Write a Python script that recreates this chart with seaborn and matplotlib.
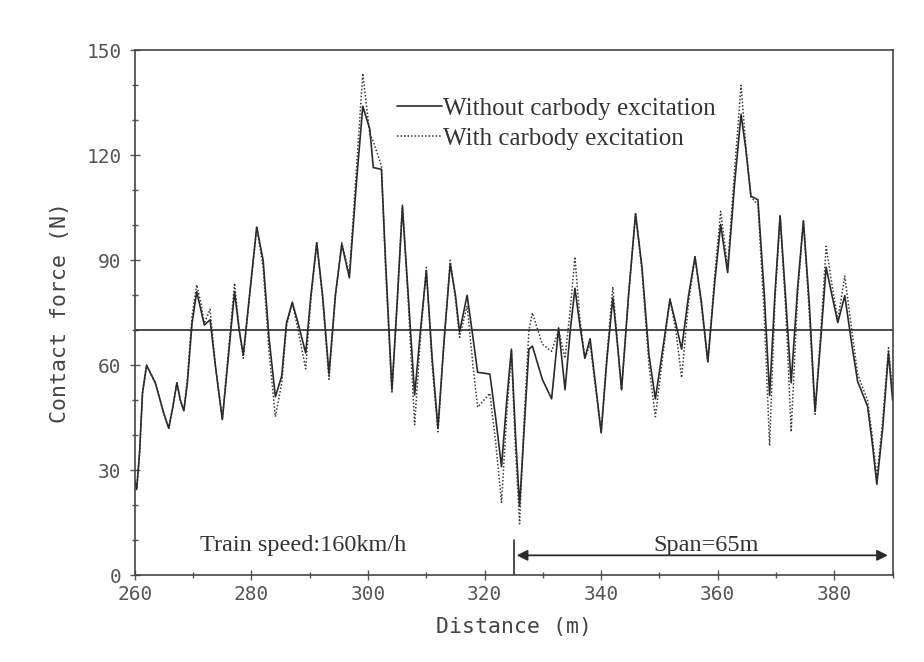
import matplotlib
matplotlib.use("Agg")
import matplotlib.pyplot as plt
from matplotlib.lines import Line2D
from matplotlib.ticker import MultipleLocator
import pandas as pd
import seaborn as sns

# distance (m) along the track
distance = [
    260.0, 260.3, 260.8, 261.3, 262.0, 263.5, 265.0, 265.8, 266.5, 267.2,
    267.8, 268.4, 269.0, 269.8, 270.6, 271.3, 271.9, 272.9, 273.8, 275.0,
    276.0, 277.1, 277.9, 278.6, 279.8, 280.9, 282.0, 283.0, 284.1, 285.2,
    286.0, 287.0, 288.0, 289.3, 290.2, 291.2, 292.2, 293.3, 294.4, 295.5,
    296.8, 298.0, 299.1, 300.3, 300.9, 302.3, 303.0, 304.1, 305.0, 305.9,
    306.9, 308.0, 309.0, 310.0, 311.0, 312.0, 313.0, 314.1, 315.0, 315.7,
    317.0, 318.0, 318.8, 320.9, 321.9, 322.9, 323.8, 324.6, 325.3, 326.0,
    326.8, 327.6, 328.2, 329.9, 331.5, 332.7, 333.8, 334.7, 335.5, 336.3,
    337.2, 338.1, 339.0, 340.0, 341.0, 342.0, 342.8, 343.5, 344.7, 345.9,
    347.0, 348.2, 349.3, 350.6, 351.8, 352.8, 353.8, 355.0, 356.1, 357.2,
    358.3, 359.5, 360.5, 361.7, 362.9, 364.0, 364.8, 365.7, 366.9, 368.0,
    368.9, 369.8, 370.7, 371.7, 372.6, 373.7, 374.7, 375.7, 376.7, 377.7,
    378.6, 379.6, 380.6, 381.8, 383.0, 384.0, 385.7, 386.5, 387.3, 388.3,
    389.3, 390.0,
]

# contact force (N), without carbody excitation
force_without = [
    27, 24.5, 35, 52, 60, 55, 46, 42, 48, 55,
    50, 47, 55, 72, 81, 76, 71.5, 73, 60, 44.5,
    62, 81, 70, 63, 82, 99.5, 90, 68, 51, 57,
    72, 78, 72, 63.5, 80, 95, 80, 57.5, 80, 94.6,
    85, 112, 134, 127.5, 116.5, 116, 90, 53, 78, 105.3,
    80, 51.5, 70, 87, 62, 42, 66, 89, 80, 69.5,
    80, 68, 58, 57.5, 45, 31, 50, 64.6, 40, 19.8,
    42, 64.6, 65.5, 56, 50.4, 70.7, 53, 70, 82, 72,
    62, 67.6, 55, 40.7, 62, 79.3, 66, 53, 80, 103.3,
    88, 63, 50.4, 65, 78.8, 72, 64.6, 80, 91, 78,
    61, 84, 100.2, 86.5, 112, 131.7, 122, 108.3, 107.3, 80,
    51.4, 80, 102.7, 78, 55, 82, 101.2, 78, 46.8, 68,
    88, 80, 72.2, 79.9, 66, 55.4, 48.3, 38, 26, 42,
    63.6, 50,
]

# contact force (N), with carbody excitation
force_with = [
    27, 24.5, 35, 52, 60, 55, 46, 42, 48, 55,
    50, 47, 56, 74, 83, 78, 72, 76, 60, 44.5,
    63, 83.5, 70, 62, 82, 99.5, 88, 64, 45.3, 55,
    71, 78, 70, 59, 79, 95, 79, 56, 80, 95,
    86, 116, 143.4, 126, 124, 117, 88, 52, 78, 106,
    78, 43, 68, 88, 60, 41, 66, 90, 79, 68,
    77, 60, 48, 52, 38, 20.8, 46, 64, 36, 14.7,
    45, 70, 75, 66, 64, 70, 62, 76, 91, 74,
    62, 66, 54, 41, 63, 82.4, 66, 53, 80, 103.3,
    87, 60, 45.3, 63, 79, 70, 56.5, 78, 91, 77,
    61, 86, 104, 88, 116, 140, 123, 108, 106, 74,
    37, 78, 103, 75, 41, 80, 101.5, 75, 46, 70,
    94, 83, 73, 85.5, 70, 57.5, 50, 40, 28, 44,
    65, 52,
]

mean_force = 70
span_start, span_end = 325, 390

df = pd.DataFrame({
    "distance": distance,
    "without": force_without,
    "with": force_with,
})

sns.set_style("ticks")
plt.rcParams["font.family"] = ["DejaVu Sans Mono", "DejaVu Sans"]
ink = "#2b2b2b"
serif = ["Liberation Serif", "DejaVu Serif"]

fig = plt.figure(figsize=(9.24, 6.62), dpi=100)
ax = fig.add_axes([0.146, 0.131, 0.82, 0.793])

sns.lineplot(data=df, x="distance", y="with", ax=ax, color="#3a3a3a",
             linewidth=1.1, linestyle=(0, (1, 1.3)))
sns.lineplot(data=df, x="distance", y="without", ax=ax, color=ink,
             linewidth=1.2)

ax.axhline(mean_force, color=ink, linewidth=1.2)

ax.set_xlim(260, 390)
ax.set_ylim(0, 150)
ax.xaxis.set_major_locator(MultipleLocator(20))
ax.xaxis.set_minor_locator(MultipleLocator(10))
ax.yaxis.set_major_locator(MultipleLocator(30))
ax.yaxis.set_minor_locator(MultipleLocator(10))
ax.tick_params(which="both", direction="inout", colors="#555555",
               labelsize=14, width=1.0)
ax.tick_params(which="major", length=7)
ax.tick_params(which="minor", length=5)
ax.tick_params(axis="y", pad=6)
for sp in ax.spines.values():
    sp.set_visible(True)
    sp.set_color("#444444")
    sp.set_linewidth(1.2)

ax.set_xlabel("Distance (m)", fontsize=15.5, color="#444444", labelpad=9)
ax.set_ylabel("Contact force (N)", fontsize=15.5, color="#444444", labelpad=12)

# span marker
ax.plot([span_start, span_start], [0, 10], color=ink, linewidth=1.2)
ax.annotate("", xy=(span_end - 0.8, 5.7), xytext=(span_start + 0.5, 5.7),
            arrowprops=dict(arrowstyle="<|-|>", color=ink, lw=1.3,
                            mutation_scale=16, shrinkA=0, shrinkB=0))
ax.text(288.8, 8.5, "Train speed:160km/h", fontsize=17.5, family=serif,
        color="#333333", ha="center", va="center")
ax.text(358, 8.5, "Span=65m", fontsize=17.5, family=serif,
        color="#333333", ha="center", va="center")

handles = [
    Line2D([], [], color=ink, linewidth=1.2),
    Line2D([], [], color="#3a3a3a", linewidth=1.1, linestyle=(0, (1, 1.3))),
]
ax.legend(handles, ["Without carbody excitation", "With carbody excitation"],
          loc="upper left", bbox_to_anchor=(0.346, 0.91), frameon=False,
          prop={"family": serif, "size": 18}, handlelength=1.8,
          handletextpad=0.05, labelspacing=0.3, borderpad=0,
          borderaxespad=0, labelcolor="#333333")

fig.savefig("out.png", dpi=100, facecolor="white")
